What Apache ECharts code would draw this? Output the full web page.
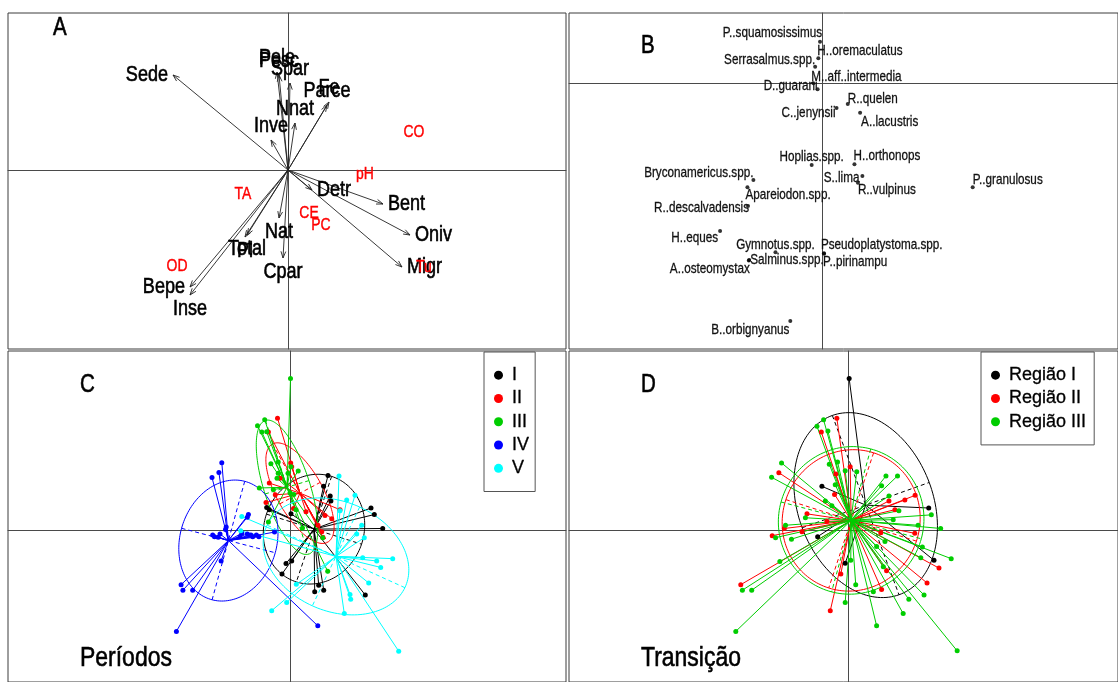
<!DOCTYPE html>
<html>
<head>
<meta charset="utf-8">
<script src="https://cdn.jsdelivr.net/npm/echarts@6/dist/echarts.min.js"></script>
<style>
html, body { margin: 0; padding: 0; background: #ffffff; }
#chart { width: 1118px; height: 682px; }
</style>
</head>
<body>
<div id="chart"></div>
<script>
const FONT = "'Liberation Sans', Arial, sans-serif";
const CONDENSE = 0.82;   // horizontal squeeze giving a narrow typeface look

// ---- Panel A: trait arrows and environmental variables ----
const traitNames = ['Sede','Pele','Pesc','Spar','Fe','Parce','Nnat','Inve','Detr','Bent','Oniv','Migr','Nat','Cpar','Total','Pl','Bepe','Inse'];
const traitX = [-1.15,-0.11,-0.09,0.02,0.41,0.39,0.07,-0.17,0.24,0.95,1.22,1.14,-0.09,-0.05,-0.41,-0.43,-0.98,-0.98];
const traitY = [0.95,0.98,0.95,0.87,0.68,0.65,0.47,0.30,-0.20,-0.34,-0.65,-0.97,-0.48,-0.88,-0.65,-0.67,-1.17,-1.25];
const traitLabelSide = ['left','top','top','top','top','top','top','top','right','right','right','right','bottom','bottom','bottom','bottom','left','bottom'];

const envNames = ['CO','pH','TA','CE','PC','OD','Tu'];
const envX = [1.26,0.77,-0.45,0.21,0.33,-1.11,1.36];
const envY = [0.38,-0.04,-0.24,-0.43,-0.55,-0.96,-0.97];

// ---- Panel B: species scores ----
const speciesNames = ['P..squamosissimus','H..oremaculatus','Serrasalmus.spp.','M..aff..intermedia','D..guarani','R..quelen','C..jenynsii','A..lacustris','Hoplias.spp.','H..orthonops','S..lima','R..vulpinus','P..granulosus','Bryconamericus.spp.','Apareiodon.spp.','R..descalvadensis','H..eques','Gymnotus.spp.','Pseudoplatystoma.spp.','P..pirinampu','Salminus.spp.','A..osteomystax','B..orbignyanus'];
const speciesX = [-0.026,-0.043,-0.075,-0.093,-0.05,0.253,0.14,0.377,-0.11,0.32,0.40,0.355,1.509,-0.696,-0.756,-0.75,-1.031,-0.474,0.013,0.015,-0.738,-0.742,-0.325];
const speciesY = [0.413,0.247,0.163,-0.003,-0.063,-0.21,-0.25,-0.297,-0.82,-0.813,-0.93,-0.997,-1.043,-0.97,-1.043,-1.23,-1.48,-1.693,-1.703,-1.707,-1.77,-1.775,-2.38];
const speciesAlign = ['right','left','right','left','right','left','right','left','center','left','right','left','left','right','left','right','right','center','left','left','left','right','right'];
const speciesShift = [[2,-9],[-1,-7],[0,-7],[-2,-6],[0,-3],[0,-5],[-1,5],[1,9],[0,-8],[-1,-8],[-3,2],[0,7],[0,-7],[0,-7],[-2,8],[1,2],[-2,7],[0,-7],[-3,-8],[-1,8],[1,0],[1,8],[-1,9]];

// ---- Panel C: sites grouped by period ----
const periodNames = ['I','II','III','IV','V'];
const periodColors = ['#000000','#ff0000','#00cd00','#0000ff','#00ffff'];
const periodIX = [0.38,0.336,0.402,0.409,0.81,0.843,0.927,-0.233,-0.207,0.01,0.017,-0.04,-0.08,0.247,0.287,0.337,0.753];
const periodIY = [0.56,0.45,0.35,0.30,0.227,0.16,0.017,0.233,0.21,0.167,-0.317,-0.343,-0.45,-0.633,-0.567,-0.617,-0.667];
const periodIIX = [-0.125,-0.216,0.007,0.017,-0.10,-0.207,-0.147,-0.24,0.035,0.50,0.417,0.318,0.329,0.16,0.35,0.28];
const periodIIY = [1.15,1.007,0.69,0.65,0.533,0.483,0.363,0.283,0.223,0.21,0.117,-0.017,-0.073,0.19,0.15,0.05];
const periodIIIX = [0.005,-0.253,-0.325,-0.282,-0.233,-0.191,-0.118,0.009,0.082,-0.02,-0.118,-0.13,-0.307,0.038,-0.216,0.125,0.377,0.327,-0.167,0.0,0.06];
const periodIIIY = [1.557,1.133,1.073,1.007,1.01,0.683,0.70,0.65,0.607,0.583,0.583,0.533,0.433,0.367,0.083,0.023,-0.423,-0.077,0.417,0.383,0.21];
const periodIVX = [-0.682,-0.711,-0.78,-0.416,-0.427,-0.638,-0.645,-0.70,-0.755,-0.773,-0.718,-0.482,-0.427,-0.391,-0.336,-0.311,-0.373,-0.50,-0.689,-1.089,-1.071,-0.973,-1.136,0.278,-0.155];
const periodIVY = [0.693,0.593,0.54,0.16,0.133,0.033,0.007,-0.04,-0.067,-0.05,-0.073,-0.033,-0.04,-0.05,-0.05,-0.067,-0.067,-0.067,-0.317,-0.56,-0.617,-0.617,-1.04,-0.983,-0.02];
const periodVX = [0.49,0.65,0.567,0.50,0.717,0.667,0.743,0.727,0.867,1.027,0.907,0.787,0.60,0.607,0.543,1.087,0.063,-0.033,-0.183,-0.482,-0.493];
const periodVY = [0.557,0.357,0.31,0.20,0.05,-0.04,-0.077,-0.283,-0.317,-0.293,-0.383,-0.543,-0.66,-0.71,-0.857,-1.243,-0.557,-0.743,-0.827,0.14,-0.007];
const periodCentreX = [0.24,0.10,-0.03,-0.616,0.46];
const periodCentreY = [0.01,0.38,0.44,-0.107,-0.27];
const periodEllipseA = [0.57,0.575,0.72,0.63,0.76];
const periodEllipseB = [0.50,0.23,0.23,0.485,0.56];
const periodEllipseAngle = [72,118.6,107.4,75,-25];

// ---- Panel D: sites grouped by region ----
const regionNames = ['Região I','Região II','Região III'];
const regionColors = ['#000000','#ff0000','#00cd00'];
const regionIX = [0.007,-0.267,0.807,-0.31,-0.033,0.86];
const regionIY = [1.557,0.45,0.227,-0.067,-0.34,-0.31];
const regionIIX = [-0.117,-0.273,-0.70,0.017,-0.127,-0.14,0.407,0.467,0.567,0.67,-0.417,-0.217,-0.767,-1.083,-0.077,-0.183,0.333,0.383,0.79,0.91,0.667,-0.467,-0.645,0.325];
const regionIIY = [1.15,1.007,0.59,0.65,0.577,0.367,0.30,0.21,0.31,0.357,0.167,0.09,-0.057,-0.56,-0.45,-0.827,-0.61,-0.417,-0.543,-0.39,-0.033,-0.017,0.017,-0.027];
const regionIIIX = [-0.25,-0.317,-0.207,-0.673,-0.773,-0.193,-0.11,-0.033,0.083,0.377,0.493,0.333,0.407,-0.133,-0.233,-0.167,-0.433,0.45,0.507,0.833,0.70,-0.633,-0.733,-0.573,-0.69,-1.067,-0.973,-1.133,0.023,0.073,-0.033,0.25,0.283,0.55,0.607,0.76,1.033,1.093,0.727,0.743,0.367,0.283,0.35,0.927];
const regionIIIY = [1.133,1.067,1.017,0.69,0.543,0.677,0.70,0.61,0.60,0.557,0.557,0.457,0.35,0.467,0.30,0.25,0.127,0.107,0.20,0.157,0.05,0.05,-0.077,-0.093,-0.323,-0.617,-0.617,-1.04,-0.31,-0.56,-0.743,-0.633,-0.983,-0.857,-0.71,-0.667,-0.293,-1.24,-0.283,-0.173,-0.117,-0.167,-0.377,0.017];
const regionCentreX = [0.173,0.027,0.027];
const regionCentreY = [0.257,0.10,0.10];
const regionEllipseA = [0.98,0.73,0.76];
const regionEllipseB = [0.68,0.69,0.73];
const regionEllipseAngle = [110,72,75];

// ---- helpers ----
const AXIS_COLOR = '#4a4a4a';
function makeAxes(index, xmin, xmax, ymin, ymax) {
  const common = {
    type: 'value', gridIndex: index, scale: false,
    axisLine: { show: true, onZero: true, lineStyle: { color: AXIS_COLOR, width: 1 } },
    axisTick: { show: false }, axisLabel: { show: false }, splitLine: { show: false }
  };
  return [
    Object.assign({}, common, { min: xmin, max: xmax }),
    Object.assign({}, common, { min: ymin, max: ymax })
  ];
}

// narrow text element anchored at a pixel position (light outline thickens the strokes)
function narrowText(text, x, y, size, color, align, squeeze, weight) {
  return {
    type: 'text', x: x, y: y, scaleX: squeeze || CONDENSE,
    style: { text: text, fill: color, stroke: color, lineWidth: weight || 0.5,
             fontSize: size, fontFamily: FONT, align: align, verticalAlign: 'middle' }
  };
}

// text labels attached to data points; placer(i) -> [align, dx, dy]
function labelSeries(idx, names, xs, ys, size, color, placer, squeeze, weight) {
  return {
    type: 'custom', xAxisIndex: idx, yAxisIndex: idx, silent: true, z: 5,
    data: xs.map((x, i) => [x, ys[i], i]),
    encode: { x: 0, y: 1 },
    renderItem: function (params, api) {
      const i = api.value(2);
      const p = api.coord([api.value(0), api.value(1)]);
      const pl = placer(i);
      return narrowText(names[i], p[0] + pl[1], p[1] + pl[2], size, color, pl[0], squeeze, weight);
    }
  };
}

function starSeries(idx, name, color, cx, cy, xs, ys) {
  return {
    type: 'custom', name: name, xAxisIndex: idx, yAxisIndex: idx, silent: true, z: 2,
    itemStyle: { color: color },
    data: xs.map((x, i) => [x, ys[i]]),
    encode: { x: 0, y: 1 },
    renderItem: function (params, api) {
      const c = api.coord([cx, cy]);
      const p = api.coord([api.value(0), api.value(1)]);
      return { type: 'line', shape: { x1: c[0], y1: c[1], x2: p[0], y2: p[1] },
               style: { stroke: color, lineWidth: 1 } };
    }
  };
}

function ellipseSeries(idx, name, color, cx, cy, a, b, angle) {
  return {
    type: 'custom', name: name, xAxisIndex: idx, yAxisIndex: idx, silent: true, z: 2,
    itemStyle: { color: color },
    data: [[cx, cy, a, b, angle]],
    encode: { x: 0, y: 1 },
    renderItem: function (params, api) {
      const x0 = api.value(0), y0 = api.value(1), ra = api.value(2), rb = api.value(3);
      const th = api.value(4) * Math.PI / 180;
      const c = Math.cos(th), s = Math.sin(th);
      const pts = [];
      for (let k = 0; k <= 160; k++) {
        const t = k / 160 * 2 * Math.PI;
        const ex = ra * Math.cos(t), ey = rb * Math.sin(t);
        pts.push(api.coord([x0 + ex * c - ey * s, y0 + ex * s + ey * c]));
      }
      const a1 = api.coord([x0 + ra * c, y0 + ra * s]), a2 = api.coord([x0 - ra * c, y0 - ra * s]);
      const b1 = api.coord([x0 - rb * s, y0 + rb * c]), b2 = api.coord([x0 + rb * s, y0 - rb * c]);
      const dash = { stroke: color, lineWidth: 1, lineDash: [4, 3] };
      return { type: 'group', children: [
        { type: 'polyline', shape: { points: pts }, style: { stroke: color, fill: null, lineWidth: 1 } },
        { type: 'line', shape: { x1: a1[0], y1: a1[1], x2: a2[0], y2: a2[1] }, style: dash },
        { type: 'line', shape: { x1: b1[0], y1: b1[1], x2: b2[0], y2: b2[1] }, style: dash }
      ] };
    }
  };
}

function pointSeries(idx, name, color, xs, ys) {
  return {
    type: 'scatter', name: name, xAxisIndex: idx, yAxisIndex: idx, silent: true, z: 3,
    symbol: 'circle', symbolSize: 5,
    itemStyle: { color: color, opacity: 1 },
    data: xs.map((x, i) => [x, ys[i]])
  };
}

function groupSeries(idx, names, colors, xsList, ysList, cX, cY, eA, eB, eAng) {
  const out = [];
  names.forEach((n, g) => out.push(pointSeries(idx, n, colors[g], xsList[g], ysList[g])));
  names.forEach((n, g) => {
    out.push(starSeries(idx, n, colors[g], cX[g], cY[g], xsList[g], ysList[g]));
    out.push(ellipseSeries(idx, n, colors[g], cX[g], cY[g], eA[g], eB[g], eAng[g]));
  });
  return out;
}

// ---- series ----
const series = [];

// Panel A arrows from the origin
series.push({
  type: 'custom', xAxisIndex: 0, yAxisIndex: 0, silent: true, z: 2,
  data: traitX.map((x, i) => [x, traitY[i]]),
  encode: { x: 0, y: 1 },
  renderItem: function (params, api) {
    const o = api.coord([0, 0]);
    const p = api.coord([api.value(0), api.value(1)]);
    const ang = Math.atan2(p[1] - o[1], p[0] - o[0]);
    const h = 7, w = Math.PI / 9;
    const h1 = [p[0] - h * Math.cos(ang - w), p[1] - h * Math.sin(ang - w)];
    const h2 = [p[0] - h * Math.cos(ang + w), p[1] - h * Math.sin(ang + w)];
    return { type: 'group', children: [
      { type: 'line', shape: { x1: o[0], y1: o[1], x2: p[0], y2: p[1] }, style: { stroke: '#222', lineWidth: 0.9 } },
      { type: 'polyline', shape: { points: [h1, p, h2] }, style: { stroke: '#222', fill: null, lineWidth: 0.9 } }
    ] };
  }
});
const SIDE_GAP = 5, VERT_GAP = 14;
series.push(labelSeries(0, traitNames, traitX, traitY, 22, '#000', function (i) {
  switch (traitLabelSide[i]) {
    case 'left': return ['right', -SIDE_GAP, 0];
    case 'right': return ['left', SIDE_GAP, 0];
    case 'top': return ['center', 0, -VERT_GAP];
    default: return ['center', 0, VERT_GAP];
  }
}, CONDENSE, 0.6));
series.push(labelSeries(0, envNames, envX, envY, 17, '#ff0000', function () { return ['center', 0, 0]; }, CONDENSE, 0.4));

// Panel B species points and names
series.push({
  type: 'scatter', xAxisIndex: 1, yAxisIndex: 1, silent: true, z: 3,
  symbol: 'circle', symbolSize: 4, itemStyle: { color: '#000' },
  data: speciesX.map((x, i) => [x, speciesY[i]])
});
series.push(labelSeries(1, speciesNames, speciesX, speciesY, 15, '#111', function (i) {
  return [speciesAlign[i], speciesShift[i][0], speciesShift[i][1]];
}, 0.78, 0.3));

// Panel C
groupSeries(2, periodNames, periodColors,
  [periodIX, periodIIX, periodIIIX, periodIVX, periodVX],
  [periodIY, periodIIY, periodIIIY, periodIVY, periodVY],
  periodCentreX, periodCentreY, periodEllipseA, periodEllipseB, periodEllipseAngle
).forEach(s => series.push(s));

// Panel D
groupSeries(3, regionNames, regionColors,
  [regionIX, regionIIX, regionIIIX],
  [regionIY, regionIIY, regionIIIY],
  regionCentreX, regionCentreY, regionEllipseA, regionEllipseB, regionEllipseAngle
).forEach(s => series.push(s));

// ---- layout ----
const axA = makeAxes(0, -2.80, 2.78, -1.79, 1.57);
const axB = makeAxes(1, -2.55, 2.97, -2.66, 0.70);
const axC = makeAxes(2, -2.82, 2.76, -1.56, 1.84);
const axD = makeAxes(3, -2.81, 2.71, -1.56, 1.84);

const gridStyle = { show: true, borderColor: '#3c3c3c', borderWidth: 1, backgroundColor: 'transparent' };

// panel letters and captions
const captions = [
  ['A', 53, 28.5, 25], ['B', 641, 46, 25], ['C', 80, 385, 25], ['D', 641, 385, 25],
  ['Períodos', 80, 658, 28], ['Transição', 641, 658, 28]
];

const legendBase = {
  orient: 'vertical', icon: 'circle', itemWidth: 9, itemHeight: 9, itemGap: 5,
  selectedMode: false, borderColor: '#555', borderWidth: 1, borderRadius: 0,
  backgroundColor: '#fff', z: 10,
  textStyle: { fontFamily: FONT, fontSize: 18, lineHeight: 18, color: '#000',
               textBorderColor: '#000', textBorderWidth: 0.3, padding: [0, 0, 0, 4] }
};

const option = {
  animation: false,
  backgroundColor: '#ffffff',
  textStyle: { fontFamily: FONT },
  graphic: captions.map(c => Object.assign(narrowText(c[0], c[1], c[2], c[3], '#000', 'left', CONDENSE, 0.6), { z: 20 })),
  grid: [
    Object.assign({ left: 8, top: 13, width: 558, height: 336 }, gridStyle),
    Object.assign({ left: 569, top: 13, width: 552, height: 336 }, gridStyle),
    Object.assign({ left: 8, top: 351, width: 558, height: 340 }, gridStyle),
    Object.assign({ left: 569, top: 351, width: 552, height: 340 }, gridStyle)
  ],
  xAxis: [axA[0], axB[0], axC[0], axD[0]],
  yAxis: [axA[1], axB[1], axC[1], axD[1]],
  legend: [
    Object.assign({}, legendBase, { data: periodNames, left: 484, top: 352, padding: [14, 6, 14, 10] }),
    Object.assign({}, legendBase, { data: regionNames, left: 981, top: 352, padding: [14, 8, 14, 10] })
  ],
  series: series
};

const chart = echarts.init(document.getElementById('chart'), null, { renderer: 'canvas' });
chart.setOption(option);
</script>
</body>
</html>
